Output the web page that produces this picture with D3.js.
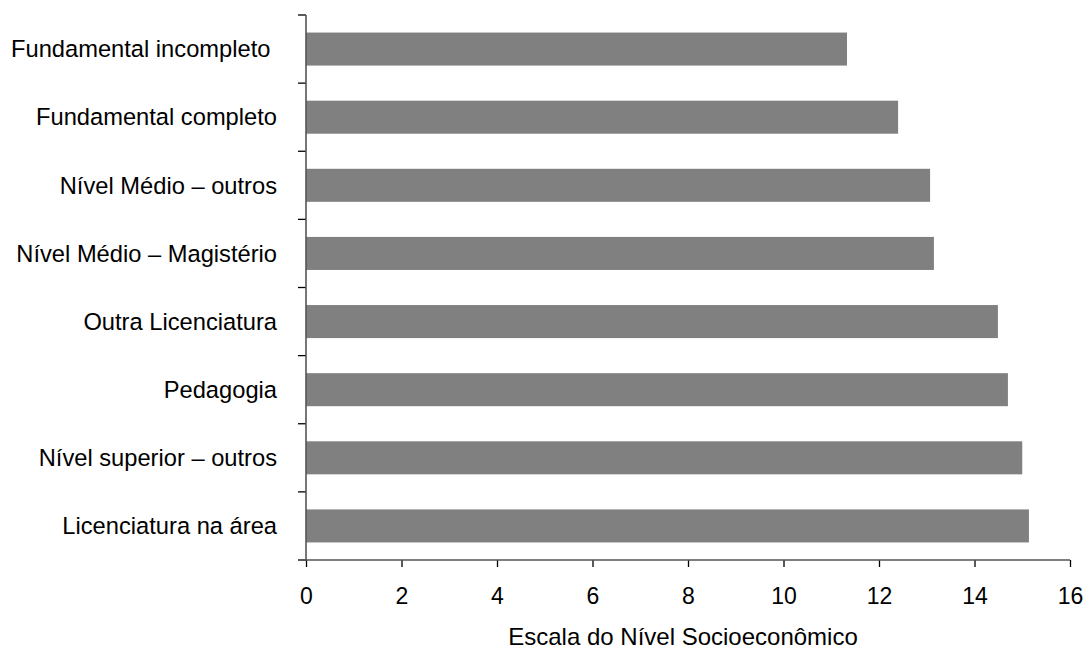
<!DOCTYPE html>
<html lang="pt">
<head>
<meta charset="UTF-8">
<title>Escala do Nível Socioeconômico</title>
<script src="https://d3js.org/d3.v7.min.js"></script>
<style>
  body { margin: 0; background: #fff; }
  text { font-family: "Liberation Sans", Arial, sans-serif; fill: #000; }
</style>
</head>
<body>
<div id="grafico"></div>
<script>
// -- Dados --
const categorias = [
  "Fundamental incompleto ",
  "Fundamental completo",
  "Nível Médio – outros",
  "Nível Médio – Magistério",
  "Outra Licenciatura",
  "Pedagogia",
  "Nível superior – outros",
  "Licenciatura na área"
];
const valores = [11.33, 12.40, 13.07, 13.15, 14.49, 14.70, 15.00, 15.14];
const ticksX = [0, 2, 4, 6, 8, 10, 12, 14, 16];
const tituloX = "Escala do Nível Socioeconômico";

// -- Dimensões --
const width = 1087, height = 650;
const margin = { top: 15, right: 17, bottom: 90, left: 306 };

const svg = d3.select("#grafico").append("svg")
    .attr("width", width)
    .attr("height", height);

const x = d3.scaleLinear()
    .domain([0, 16])
    .range([margin.left, width - margin.right]);

const y = d3.scaleBand()
    .domain(categorias)
    .range([margin.top, height - margin.bottom])
    .paddingInner(0.515)
    .paddingOuter(0.2575);

// -- Barras --
svg.append("g")
  .selectAll("rect")
  .data(valores)
  .enter()
  .append("rect")
    .attr("x", x(0))
    .attr("y", (d, i) => y(categorias[i]))
    .attr("width", d => x(d) - x(0))
    .attr("height", y.bandwidth())
    .attr("fill", "#808080");

// -- Ticks do eixo Y (nos limites das categorias) --
const limites = d3.range(categorias.length + 1)
    .map(i => margin.top + i * y.step());
svg.append("g")
  .selectAll("line")
  .data(limites)
  .enter()
  .append("line")
    .attr("x1", x(0) - 8)
    .attr("x2", x(0))
    .attr("y1", d => d)
    .attr("y2", d => d)
    .attr("stroke", "#000")
    .attr("stroke-width", 1.3);

// -- Rótulos das categorias --
svg.append("g")
  .selectAll("text")
  .data(categorias)
  .enter()
  .append("text")
    .attr("x", x(0) - 29)
    .attr("y", d => y(d) + y.bandwidth() / 2)
    .attr("dy", "0.35em")
    .attr("text-anchor", "end")
    .style("white-space", "pre")
    .style("font-size", "23.7px")
    .text(d => d);

// -- Eixo X --
const eixoX = svg.append("g")
    .attr("transform", `translate(0,${height - margin.bottom})`)
    .call(d3.axisBottom(x).tickValues(ticksX).tickSize(7).tickPadding(21).tickSizeOuter(0));
eixoX.select(".domain").remove();
eixoX.selectAll(".tick line").attr("stroke", "#000").attr("stroke-width", 1.3);
eixoX.selectAll(".tick text")
    .style("font-size", "23px")
    .style("font-family", "'Liberation Sans', Arial, sans-serif");

// -- Linhas dos eixos --
svg.append("line")
    .attr("x1", x(0)).attr("x2", x(16))
    .attr("y1", height - margin.bottom).attr("y2", height - margin.bottom)
    .attr("stroke", "#555").attr("stroke-width", 1.6);
svg.append("line")
    .attr("x1", x(0)).attr("x2", x(0))
    .attr("y1", margin.top).attr("y2", height - margin.bottom)
    .attr("stroke", "#555").attr("stroke-width", 1.6);

// -- Título do eixo X --
svg.append("text")
    .attr("x", 683)
    .attr("y", 645)
    .attr("text-anchor", "middle")
    .style("font-size", "24px")
    .text(tituloX);
</script>
</body>
</html>
